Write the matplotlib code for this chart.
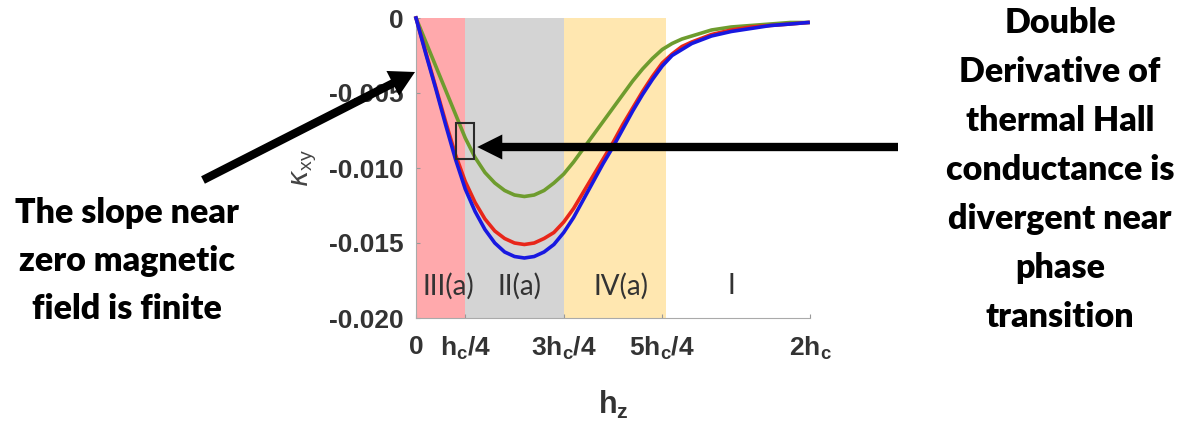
import matplotlib
matplotlib.use("Agg")
import matplotlib.pyplot as plt
from matplotlib.patches import Rectangle

plt.rcParams['mathtext.default'] = 'regular'

# ---- data (x in units of h_c) ----
hz = [0, 0.05, 0.1, 0.15, 0.2, 0.25, 0.3, 0.35, 0.4, 0.45, 0.5, 0.55, 0.6, 0.65,
      0.7, 0.75, 0.8, 0.85, 0.9, 0.95, 1.0, 1.05, 1.1, 1.15, 1.2, 1.25, 1.3, 1.35,
      1.4, 1.5, 1.6, 1.7, 1.8, 1.9, 1.99]
kxy_green = [0, -0.0016, -0.0032, -0.0048, -0.0064, -0.0080, -0.0093, -0.0103, -0.0110,
             -0.0115, -0.0118, -0.0119, -0.0118, -0.0115, -0.0110, -0.0104, -0.0096,
             -0.0087, -0.0078, -0.0069, -0.0060, -0.0051, -0.0042, -0.0034, -0.0027,
             -0.0021, -0.0017, -0.0014, -0.0012, -0.0008, -0.0006, -0.0005, -0.0004,
             -0.0003, -0.0003]
kxy_red = [0, -0.0023, -0.0046, -0.0069, -0.0091, -0.0109, -0.0123, -0.0134, -0.0142,
           -0.0147, -0.0150, -0.0151, -0.0150, -0.0147, -0.0143, -0.0136, -0.0127,
           -0.0116, -0.0105, -0.0094, -0.0083, -0.0071, -0.0060, -0.0049, -0.0039,
           -0.0030, -0.0024, -0.0019, -0.0016, -0.0011, -0.0008, -0.0006, -0.0005,
           -0.0004, -0.0003]
kxy_blue = [0, -0.0024, -0.0047, -0.0071, -0.0094, -0.0114, -0.0129, -0.0141, -0.0150,
            -0.0156, -0.0159, -0.0160, -0.0159, -0.0156, -0.0151, -0.0143, -0.0133,
            -0.0121, -0.0109, -0.0097, -0.0086, -0.0074, -0.0062, -0.0051, -0.0041,
            -0.0032, -0.0025, -0.0021, -0.0017, -0.0012, -0.0009, -0.0007, -0.0005,
            -0.0004, -0.0003]

region_edges = [0, 0.25, 0.75, 1.27]
region_colors = ['#FFA9AC', '#D4D4D4', '#FFE7B0']
region_names = ['III(a)', 'II(a)', 'IV(a)', 'I']
region_label_x = [0.163, 0.526, 1.04, 1.60]
region_label_y = -0.0179

xticks = [0, 0.25, 0.75, 1.25, 2.0]
xticklabels = ['0', 'h$_c$/4', '3h$_c$/4', '5h$_c$/4', '2h$_c$']
yticks = [0, -0.005, -0.010, -0.015, -0.020]
yticklabels = ['0', '-0.005', '-0.010', '-0.015', '-0.020']

box_x = [0.204, 0.296]
box_y = [-0.0094, -0.0070]

left_note = "The slope near\nzero magnetic\nfield is finite"
right_note = ("Double\nDerivative of\nthermal Hall\nconductance is\n"
              "divergent near\nphase\ntransition")

# ---- figure ----
fig = plt.figure(figsize=(11.81, 4.28), dpi=100)
ax = fig.add_axes([416/1181, 1 - 318/428, 394/1181, 300/428])

for i in range(3):
    ax.axvspan(region_edges[i], region_edges[i + 1], ymin=0, ymax=1,
               color=region_colors[i], lw=0, zorder=0)

ax.plot(hz, kxy_green, color='#6E9C2E', lw=2.6, zorder=3, clip_on=False,
        solid_joinstyle='round')
ax.plot(hz, kxy_red, color='#E8261A', lw=2.6, zorder=4, clip_on=False,
        solid_joinstyle='round')
ax.plot(hz, kxy_blue, color='#1818E0', lw=2.6, zorder=5, clip_on=False,
        solid_joinstyle='round')

for name, x in zip(region_names, region_label_x):
    ax.text(x, region_label_y, name, ha='center', va='center', fontsize=20,
            family='Lato', color='#333333', zorder=6)

ax.add_patch(Rectangle((box_x[0], box_y[0]), box_x[1] - box_x[0], box_y[1] - box_y[0],
                       fill=False, edgecolor='#2a2a2a', lw=1.5, zorder=7))

ax.set_xlim(0, 2.0)
ax.set_ylim(-0.020, 0)
ax.set_xticks(xticks)
ax.set_xticklabels(xticklabels)
ax.set_yticks(yticks)
ax.set_yticklabels(yticklabels)
for lab in ax.get_xticklabels() + ax.get_yticklabels():
    lab.set_fontfamily('Liberation Sans')
    lab.set_fontweight('bold')
    lab.set_fontsize(19)
    lab.set_color('#333333')
ax.tick_params(axis='both', direction='in', length=3, width=0.8, color='#999999')
ax.tick_params(axis='x', pad=12)
ax.tick_params(axis='y', pad=9)
for s in ['top', 'right']:
    ax.spines[s].set_visible(False)
for s in ['left', 'bottom']:
    ax.spines[s].set_color('#AAAAAA')
    ax.spines[s].set_linewidth(0.8)

ax.set_xlabel('h$_z$', fontsize=22, fontweight='bold', family='Liberation Sans',
              color='#333333')
ax.xaxis.set_label_coords(0.5, -0.235)
ax.set_ylabel(r'$\mathit{\kappa}_{xy}$', fontsize=20, family='Liberation Sans',
              color='#444444')
ax.yaxis.set_label_coords(-0.245, 0.5)

# ---- annotations ----
ax.annotate('', xy=(-0.005, -0.0036), xycoords='data',
            xytext=(203, 428 - 180), textcoords='figure pixels',
            arrowprops=dict(arrowstyle='simple,tail_width=0.3,head_width=1.0,head_length=0.9',
                            mutation_scale=20, color='black', lw=0, shrinkA=0, shrinkB=0),
            annotation_clip=False, zorder=10)
ax.annotate('', xy=(0.311, -0.0086), xycoords='data',
            xytext=(898, 428 - 147), textcoords='figure pixels',
            arrowprops=dict(arrowstyle='simple,tail_width=0.3,head_width=0.9,head_length=0.9',
                            mutation_scale=20, color='black', lw=0, shrinkA=0, shrinkB=0),
            annotation_clip=False, zorder=10)

fig.text(127/1181, 1 - 261/428, left_note, ha='center', va='center', fontsize=24.5,
         family='Lato', fontweight='heavy', color='black', linespacing=1.62)
fig.text(1060/1181, 1 - 170/428, right_note, ha='center', va='center', fontsize=24.5,
         family='Lato', fontweight='heavy', color='black', linespacing=1.66)

fig.savefig('out.png', dpi=100)
